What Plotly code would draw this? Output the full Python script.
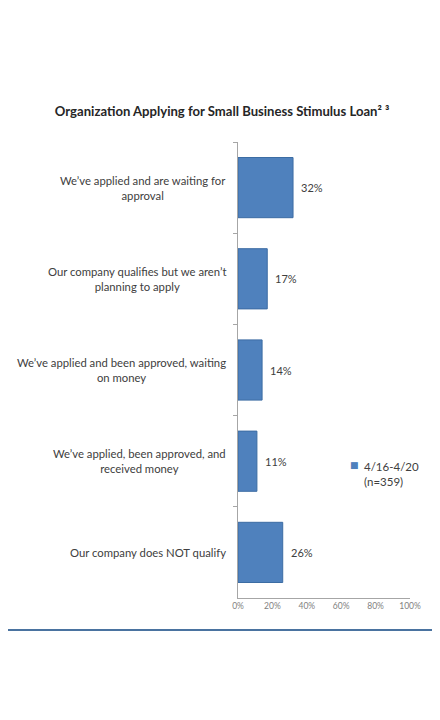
import plotly.graph_objects as go

# --- data ---
categories = [
    "We’ve applied and are waiting for<br>approval",
    "Our company qualifies but we aren’t<br>planning to apply",
    "We’ve applied and been approved, waiting<br>on money",
    "We’ve applied, been approved, and<br>received money",
    "Our company does NOT qualify",
]
values = [32, 17, 14, 11, 26]
series_name = "4/16-4/20<br>(n=359)"
x_ticks = [0, 20, 40, 60, 80, 100]

FONT = "Lato, 'Open Sans', sans-serif"
TEXT = "#404040"
BAR = "#4F81BD"

fig = go.Figure()
fig.add_trace(go.Bar(
    x=values,
    y=categories,
    orientation="h",
    name=series_name,
    width=0.66,
    marker=dict(color=BAR, line=dict(color="#3C6CA3", width=1)),
    showlegend=False,
))

# category labels, centred lines, right-aligned block next to the axis
for cat in categories:
    fig.add_annotation(
        x=0, y=cat, xref="paper", yref="y",
        text=cat, showarrow=False,
        xanchor="right", yanchor="middle", align="center", xshift=-10,
        font=dict(family=FONT, size=11.3, color=TEXT),
    )

# value labels
for cat, v in zip(categories, values):
    fig.add_annotation(
        x=v, y=cat, xref="x", yref="y",
        text=f"{v}%", showarrow=False,
        xanchor="left", yanchor="middle", xshift=6,
        font=dict(family=FONT, size=11, color=TEXT),
    )

# legend (small key square + two-line series name)
fig.add_annotation(
    x=0.721, y=0.273, xref="paper", yref="paper",
    text=series_name, showarrow=False, align="left",
    xanchor="left", yanchor="middle",
    font=dict(family=FONT, size=11.5, color=TEXT),
)
fig.add_annotation(
    x=0.721, y=0.2917, xref="paper", yref="paper",
    text="■", showarrow=False,
    xanchor="right", yanchor="middle", xshift=-1,
    font=dict(family="DejaVu Sans", size=9, color=BAR),
)

# blue rule under the chart
fig.add_shape(type="line", xref="paper", yref="paper",
              x0=-3, x1=3, y0=-0.0702, y1=-0.0702,
              line=dict(color="#4A73A0", width=2))

fig.update_layout(
    width=424, height=704,
    margin=dict(l=230, r=22, t=134, b=114, autoexpand=False),
    paper_bgcolor="white", plot_bgcolor="white",
    font=dict(family=FONT, color=TEXT),
    title=dict(
        text="<b>Organization Applying for Small Business Stimulus Loan² ³</b>",
        x=0.505, xref="container", xanchor="center",
        y=1 - 103 / 704, yref="container", yanchor="middle",
        font=dict(family=FONT, size=13.1, color="#262626"),
    ),
    showlegend=False,
    bargap=0.34,
)

fig.update_xaxes(
    range=[0, 100], tickvals=x_ticks, ticktext=[f"{t}%" for t in x_ticks],
    showgrid=False, zeroline=False,
    showline=True, linecolor="#A6A6A6", linewidth=1,
    ticks="", tickfont=dict(family=FONT, size=8.5, color="#7F7F7F"),
)
fig.update_yaxes(
    autorange="reversed", showticklabels=False,
    showgrid=False, zeroline=False,
    showline=True, linecolor="#A6A6A6", linewidth=1,
    ticks="outside", ticklen=4, tickcolor="#A6A6A6", tickson="boundaries",
)

fig.write_html("out.html")
